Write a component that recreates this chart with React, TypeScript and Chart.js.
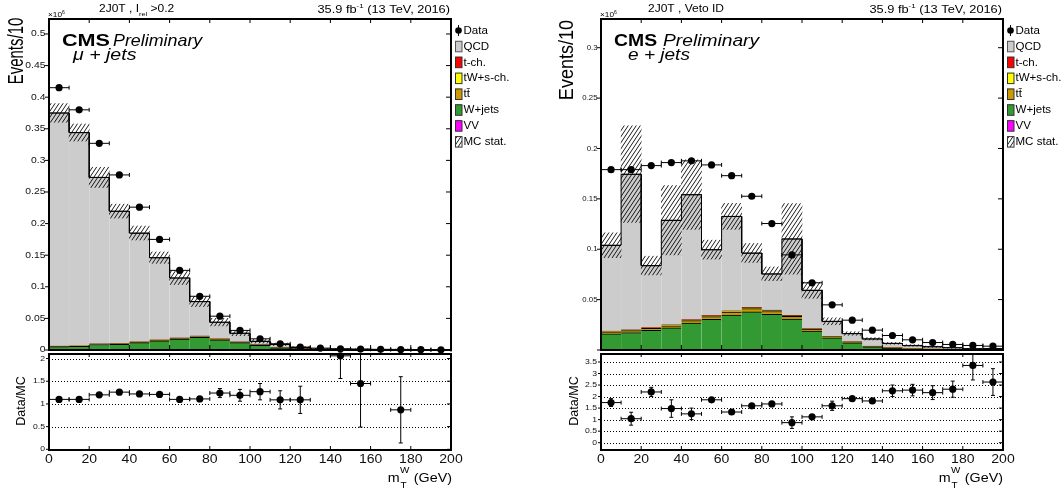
import React, { useEffect, useRef } from 'react';
import { Chart, registerables } from 'chart.js';

Chart.register(...registerables);

const W = 1064;
const H = 491;
const FONT = '"Liberation Sans", Arial, Helvetica, sans-serif';

// ---------------- data ----------------
const binEdges = [0, 10, 20, 30, 40, 50, 60, 70, 80, 90, 100, 110, 120, 130, 140, 150, 160, 170, 180, 190, 200];
const binCenters = [5, 15, 25, 35, 45, 55, 65, 75, 85, 95, 105, 115, 125, 135, 145, 155, 165, 175, 185, 195];
const xTickValues = [0, 20, 40, 60, 80, 100, 120, 140, 160, 180, 200];
const xTickLabels = ['0', '20', '40', '60', '80', '100', '120', '140', '160', '180', '200'];

// mu + jets (left), units of 10^6 events
const muData = [0.415, 0.380, 0.327, 0.277, 0.226, 0.175, 0.126, 0.085, 0.0535, 0.031, 0.0177, 0.0098, 0.0045, 0.0030, 0.0020, 0.0015, 0.0011, 0.0008, 0.0006, 0.0004];
const muQCD = [0.369, 0.3374, 0.2632, 0.2096, 0.172, 0.130, 0.095, 0.0547, 0.0265, 0.0136, 0.0055, 0.0050, 0.0019, 0.0004, 0.0005, 0.0006, 0.0003, 0.0007, 0.0002, 0.0001];
const muTch = [0.0001, 0.0002, 0.0002, 0.0002, 0.0002, 0.0002, 0.0002, 0.0002, 0.0002, 0.0002, 0.0001, 0.0001, 0, 0, 0, 0, 0, 0, 0, 0];
const muTW = [0.0002, 0.0002, 0.0003, 0.0003, 0.0004, 0.0005, 0.0005, 0.0006, 0.0005, 0.0004, 0.0003, 0.0001, 0.0001, 0, 0, 0, 0, 0, 0, 0];
const muTTbar = [0.0005, 0.0005, 0.0007, 0.0007, 0.0009, 0.0010, 0.0011, 0.0012, 0.0010, 0.0008, 0.0006, 0.0003, 0.0002, 0.0001, 0.0001, 0.0001, 0, 0, 0, 0];
const muWjets = [0.0052, 0.0057, 0.0086, 0.0088, 0.0115, 0.0143, 0.0172, 0.0200, 0.0158, 0.0116, 0.0073, 0.0035, 0.0019, 0.0010, 0.0006, 0.0003, 0.0002, 0.0002, 0.0001, 0.0001];
const muVV = [0.0001, 0.0001, 0.0001, 0.0001, 0.0001, 0.0001, 0.0001, 0.0001, 0.0001, 0.0001, 0.0001, 0, 0, 0, 0, 0, 0, 0, 0, 0];
const muMCstat = [0.0148, 0.0135, 0.016, 0.011, 0.011, 0.009, 0.0105, 0.008, 0.006, 0.004, 0.003, 0.002, 0.0015, 0.001, 0.0008, 0.0008, 0.0005, 0.0006, 0.0003, 0.0002];
const muRatio = [1.10, 1.10, 1.20, 1.26, 1.22, 1.21, 1.10, 1.11, 1.24, 1.19, 1.27, 1.09, 1.09, null, 2.06, 1.45, null, 0.87, null, null];
const muRatioErr = [0.02, 0.02, 0.02, 0.02, 0.03, 0.03, 0.04, 0.05, 0.1, 0.13, 0.18, 0.2, 0.3, null, 0.5, 0.96, null, 0.73, null, null];
const muYTicks = [0, 0.05, 0.1, 0.15, 0.2, 0.25, 0.3, 0.35, 0.4, 0.45, 0.5];
const muYTickLabels = ['0', '0.05', '0.1', '0.15', '0.2', '0.25', '0.3', '0.35', '0.4', '0.45', '0.5'];
const muRTicks = [0, 0.5, 1, 1.5, 2];
const muRTickLabels = ['0', '0.5', '1', '1.5', '2'];

// e + jets (right)
const eData = [0.179, 0.179, 0.183, 0.186, 0.1877, 0.1837, 0.173, 0.1526, 0.1255, 0.0944, 0.0667, 0.0448, 0.0296, 0.0197, 0.0144, 0.0101, 0.0074, 0.0055, 0.0045, 0.0038];
const eQCD = [0.0853, 0.1545, 0.0615, 0.1038, 0.124, 0.0652, 0.0937, 0.0539, 0.0361, 0.0758, 0.038, 0.0149, 0.0083, 0.0073, 0.0044, 0.0031, 0.0024, 0.0017, 0.0008, 0.0010];
const eTch = [0.0003, 0.0003, 0.0003, 0.0003, 0.0004, 0.0004, 0.0004, 0.0004, 0.0004, 0.0004, 0.0002, 0.0001, 0.0001, 0.0001, 0, 0, 0, 0, 0, 0];
const eTW = [0.0005, 0.0005, 0.0006, 0.0006, 0.0007, 0.0008, 0.0009, 0.0010, 0.0009, 0.0008, 0.0005, 0.0003, 0.0002, 0.0001, 0.0001, 0, 0, 0, 0, 0];
const eTTbar = [0.0018, 0.0019, 0.0020, 0.0022, 0.0025, 0.0028, 0.0030, 0.0032, 0.0029, 0.0025, 0.0017, 0.0011, 0.0007, 0.0004, 0.0003, 0.0002, 0.0001, 0.0001, 0.0001, 0.0001];
const eWjets = [0.0160, 0.0172, 0.0193, 0.0218, 0.0265, 0.0303, 0.0345, 0.0377, 0.0352, 0.0307, 0.0188, 0.0121, 0.0071, 0.0032, 0.0018, 0.0012, 0.0008, 0.0005, 0.0004, 0.0003];
const eVV = [0.0001, 0.0001, 0.0001, 0.0001, 0.0001, 0.0001, 0.0001, 0.0001, 0.0001, 0.0001, 0.0001, 0, 0, 0, 0, 0, 0, 0, 0, 0];
const eMCstat = [0.0123, 0.048, 0.0093, 0.0344, 0.0345, 0.0094, 0.0129, 0.0094, 0.0068, 0.035, 0.008, 0.0034, 0.0018, 0.0012, 0.0009, 0.0008, 0.0006, 0.0005, 0.0004, 0.0004];
const eRatio = [1.74, 1.04, 2.20, 1.48, 1.25, 1.86, 1.33, 1.60, 1.68, 0.87, 1.12, 1.60, 1.91, 1.81, 2.25, 2.28, 2.17, 2.32, 3.35, 2.63];
const eRatioErr = [0.17, 0.28, 0.2, 0.38, 0.25, 0.1, 0.05, 0.07, 0.07, 0.25, 0.06, 0.2, 0.05, 0.05, 0.25, 0.25, 0.3, 0.35, 0.63, 0.58];
const eYTicks = [0, 0.05, 0.1, 0.15, 0.2, 0.25, 0.3];
const eYTickLabels = ['', '0.05', '0.1', '0.15', '0.2', '0.25', '0.3'];
const eRTicks = [0, 0.5, 1, 1.5, 2, 2.5, 3, 3.5];
const eRTickLabels = ['0', '0.5', '1', '1.5', '2', '2.5', '3', '3.5'];

const legendLabels = ['Data', 'QCD', 't-ch.', 'tW+s-ch.', 'tt\u0304', 'W+jets', 'VV', 'MC stat.'];

// ---------------- styles / layout ----------------
const COLORS = { qcd: '#cccccc', tch: '#ff0000', tw: '#ffff00', ttbar: '#cc9900', wjets: '#339933', vv: '#ff00ff' };
const legendRowY = [30.5, 46.3, 62.2, 78.1, 94, 109.8, 125.7, 141.6];

const LEFT = {
  main: { left: 49, right: 451, top: 19, bottom: 350 },
  ratio: { left: 49, right: 451, top: 354, bottom: 450 },
  yMax: 0.5237, rMin: -0.015, rMax: 2.1,
  data: muData, qcd: muQCD, tch: muTch, tw: muTW, ttbar: muTTbar, wjets: muWjets, vv: muVV, mcStat: muMCstat,
  ratioVals: muRatio, ratioErr: muRatioErr,
  yTicks: muYTicks, yTickLabels: muYTickLabels, rTicks: muRTicks, rTickLabels: muRTickLabels,
  t: {
    title: [{ t: '2J0T , I' }, { t: 'rel', sub: true }, { t: ' >0.2' }], titleX: 99, titleCenter: null,
    lumiRight: 450, x10X: 48,
    cmsX: 62, cmsSx: 1.27, prelimX: 113, prelimSx: 1.05, chan: '\u03bc + jets', chanX: 73, chanSx: 1.15,
    evX: 16.5, evY: 51, evSize: 22, evSx: 0.68,
    yLabRight: 45.5, yLabSize: 9, yLabSx: 1.15,
    legendX: 455,
    dmX: 22, rLabRight: 45, mtRight: 452,
  },
};

const RIGHT = {
  main: { left: 601, right: 1003, top: 19, bottom: 350 },
  ratio: { left: 601, right: 1003, top: 354, bottom: 450 },
  yMax: 0.3285, rMin: -0.317, rMax: 3.846,
  data: eData, qcd: eQCD, tch: eTch, tw: eTW, ttbar: eTTbar, wjets: eWjets, vv: eVV, mcStat: eMCstat,
  ratioVals: eRatio, ratioErr: eRatioErr,
  yTicks: eYTicks, yTickLabels: eYTickLabels, rTicks: eRTicks, rTickLabels: eRTickLabels,
  t: {
    title: [{ t: '2J0T , Veto ID' }], titleX: null, titleCenter: 686,
    lumiRight: 1002, x10X: 600,
    cmsX: 614, cmsSx: 1.14, prelimX: 663, prelimSx: 1.13, chan: 'e + jets', chanX: 628, chanSx: 1.12,
    evX: 567.5, evY: 60, evSize: 21, evSx: 0.86,
    yLabRight: 597.5, yLabSize: 7.8, yLabSx: 1.0,
    legendX: 1007,
    dmX: 574.5, rLabRight: 597, mtRight: 1003,
  },
};

// ---------------- helpers ----------------
function fontOf(o: any) {
  return `${o.italic ? 'italic ' : ''}${o.bold ? 'bold ' : ''}${o.size}px ${FONT}`;
}
function measure(ctx: CanvasRenderingContext2D, s: string, o: any) {
  ctx.save();
  ctx.font = fontOf(o);
  const w = ctx.measureText(s).width * (o.sx ?? 1);
  ctx.restore();
  return w;
}
function text(ctx: CanvasRenderingContext2D, s: string, x: number, y: number, o: any) {
  ctx.save();
  ctx.translate(x, y);
  if (o.rot) ctx.rotate(o.rot);
  ctx.scale(o.sx ?? 1, 1);
  ctx.font = fontOf(o);
  ctx.textAlign = o.align ?? 'left';
  ctx.textBaseline = o.baseline ?? 'alphabetic';
  ctx.fillStyle = o.color ?? '#000';
  ctx.fillText(s, 0, 0);
  ctx.restore();
}
function segOpt(s: any, o: any) {
  return s.sub || s.sup ? { ...o, size: o.size * 0.62 } : o;
}
function segsWidth(ctx: CanvasRenderingContext2D, segs: any[], o: any) {
  return segs.reduce((w, s) => w + measure(ctx, s.t, segOpt(s, o)), 0);
}
function drawSegs(ctx: CanvasRenderingContext2D, segs: any[], x: number, y: number, o: any) {
  let cx = x;
  for (const s of segs) {
    const oo = segOpt(s, o);
    const dy = s.sub ? o.size * 0.4 : s.sup ? -o.size * 0.42 : 0;
    text(ctx, s.t, cx, y + dy, { ...oo, align: 'left' });
    cx += measure(ctx, s.t, oo);
  }
}
function seg(ctx: CanvasRenderingContext2D, x1: number, y1: number, x2: number, y2: number) {
  ctx.beginPath();
  ctx.moveTo(x1, y1);
  ctx.lineTo(x2, y2);
  ctx.stroke();
}
function makeHatch() {
  const c = document.createElement('canvas');
  c.width = 4;
  c.height = 6;
  const g = c.getContext('2d')!;
  g.strokeStyle = '#000';
  g.lineWidth = 0.9;
  g.beginPath();
  g.moveTo(0, 6); g.lineTo(4, 0);
  g.moveTo(-4, 6); g.lineTo(0, 0);
  g.moveTo(4, 6); g.lineTo(8, 0);
  g.stroke();
  return g.createPattern(c, 'repeat');
}
function padding(a: any) {
  return { left: a.left, top: a.top, right: W - a.right, bottom: H - a.bottom };
}

// ---------------- main (stack) chart ----------------
function buildMain(p: any, pat: any) {
  const total = p.qcd.map((q: number, i: number) => q + p.tch[i] + p.tw[i] + p.ttbar[i] + p.wjets[i] + p.vv[i]);
  const stepPts: any[] = [];
  total.forEach((v: number, i: number) => {
    stepPts.push({ x: binEdges[i], y: v });
    stepPts.push({ x: binEdges[i + 1], y: v });
  });
  const layer = (label: string, arr: number[], color: string) => ({
    type: 'bar', label,
    data: binCenters.map((x, i) => ({ x, y: arr[i] })),
    backgroundColor: color, borderColor: '#000',
    borderWidth: { top: 1, right: 0, bottom: 0, left: 0 }, borderSkipped: false,
    stack: 'mc', order: 3, yAxisID: 'y',
  });

  const plugin = {
    id: 'mainDeco',
    afterDatasetsDraw(chart: any) {
      const ctx: CanvasRenderingContext2D = chart.ctx;
      const xs = chart.scales.x, ys = chart.scales.y2, ca = chart.chartArea;
      const t = p.t;
      ctx.save();
      ctx.strokeStyle = '#000';
      ctx.lineWidth = 1;
      // horizontal error bars of data
      p.data.forEach((v: number, i: number) => {
        const xa = xs.getPixelForValue(binEdges[i]), xb = xs.getPixelForValue(binEdges[i + 1]);
        const y = ys.getPixelForValue(v);
        seg(ctx, xa, y, xb, y);
        seg(ctx, xa, y - 2, xa, y + 2);
        seg(ctx, xb, y - 2, xb, y + 2);
      });
      // frame
      ctx.lineWidth = 2;
      ctx.strokeRect(ca.left, ca.top, ca.right - ca.left, ca.bottom - ca.top);
      ctx.lineWidth = 1;
      xTickValues.forEach((v) => {
        const x = xs.getPixelForValue(v);
        seg(ctx, x, ca.bottom, x, ca.bottom - 5);
        seg(ctx, x, ca.top, x, ca.top + 4);
      });
      p.yTicks.forEach((v: number, i: number) => {
        const y = ys.getPixelForValue(v);
        seg(ctx, ca.left - 4, y, ca.left, y);
        seg(ctx, ca.right, y, ca.right - 5, y);
        const lab = p.yTickLabels[i];
        if (lab) text(ctx, lab, t.yLabRight, y, { size: t.yLabSize, sx: t.yLabSx, align: 'right', baseline: 'middle', color: '#111' });
      });
      ctx.restore();

      // titles
      const tOpt = { size: 10, sx: 1.2 };
      const tw = segsWidth(ctx, t.title, tOpt);
      const tx = t.titleCenter != null ? t.titleCenter - tw / 2 : t.titleX;
      drawSegs(ctx, t.title, tx, 12.3, tOpt);
      const lumi = [{ t: '35.9 fb' }, { t: '-1', sup: true }, { t: ' (13 TeV, 2016)' }];
      const lOpt = { size: 10, sx: 1.28 };
      drawSegs(ctx, lumi, t.lumiRight - segsWidth(ctx, lumi, lOpt), 12.5, lOpt);
      drawSegs(ctx, [{ t: '\u00d710' }, { t: '6', sup: true }], t.x10X, 17, { size: 7.5, sx: 1.1 });

      text(ctx, 'CMS', t.cmsX, 45.5, { size: 17, bold: true, sx: t.cmsSx });
      text(ctx, 'Preliminary', t.prelimX, 45.5, { size: 17, italic: true, sx: t.prelimSx });
      text(ctx, t.chan, t.chanX, 59.5, { size: 17, italic: true, sx: t.chanSx });
      text(ctx, 'Events/10', t.evX, t.evY, { size: t.evSize, sx: t.evSx, rot: -Math.PI / 2, align: 'center', baseline: 'middle' });

      // legend
      const fills = [null, COLORS.qcd, COLORS.tch, COLORS.tw, COLORS.ttbar, COLORS.wjets, COLORS.vv, pat];
      ctx.save();
      legendLabels.forEach((lab, i) => {
        const y = legendRowY[i];
        const bx = t.legendX;
        if (i === 0) {
          ctx.fillStyle = '#000';
          ctx.beginPath();
          ctx.arc(bx + 3.5, y, 3.3, 0, Math.PI * 2);
          ctx.fill();
          ctx.strokeStyle = '#000';
          ctx.lineWidth = 1;
          seg(ctx, bx + 3.5, y - 5.5, bx + 3.5, y + 5.5);
        } else {
          if (i === 7) {
            ctx.fillStyle = '#fff';
            ctx.fillRect(bx, y - 5.5, 7, 11);
          }
          ctx.fillStyle = fills[i] as any;
          ctx.fillRect(bx, y - 5.5, 7, 11);
          ctx.strokeStyle = i === 1 ? '#555' : '#333';
          ctx.lineWidth = 1;
          ctx.strokeRect(bx + 0.5, y - 5, 6.5, 10.5);
        }
        text(ctx, lab, bx + 8.5, y + 0.5, { size: 10.5, sx: 1.1, baseline: 'middle' });
      });
      ctx.restore();
    },
  };

  return {
    type: 'bar',
    data: {
      datasets: [
        {
          type: 'line', label: 'Data', data: binCenters.map((x, i) => ({ x, y: p.data[i] })),
          showLine: false, pointRadius: 3.6, pointBackgroundColor: '#000', pointBorderColor: '#000', pointBorderWidth: 0,
          order: 0, clip: false, yAxisID: 'y2',
        },
        {
          type: 'bar', label: 'MC stat.',
          data: binCenters.map((x, i) => ({ x, y: [total[i] - p.mcStat[i], total[i] + p.mcStat[i]] })),
          backgroundColor: pat, borderWidth: 0, order: 1, yAxisID: 'y2',
        },
        {
          type: 'line', label: 'MC total', data: stepPts, borderColor: '#000', borderWidth: 1,
          pointRadius: 0, fill: false, order: 2, yAxisID: 'y2',
        },
        layer('VV', p.vv, COLORS.vv),
        layer('W+jets', p.wjets, COLORS.wjets),
        layer('tt\u0304', p.ttbar, COLORS.ttbar),
        layer('tW+s-ch.', p.tw, COLORS.tw),
        layer('t-ch.', p.tch, COLORS.tch),
        layer('QCD', p.qcd, COLORS.qcd),
      ],
    },
    options: {
      responsive: false,
      animation: false,
      devicePixelRatio: 1,
      events: [],
      layout: { padding: padding(p.main) },
      datasets: { bar: { grouped: false, barPercentage: 1, categoryPercentage: 1 } },
      plugins: { legend: { display: false }, tooltip: { enabled: false }, title: { display: false } },
      scales: {
        x: { type: 'linear', min: 0, max: 200, offset: false, display: false, ticks: { stepSize: 10 } },
        y: { type: 'linear', min: 0, max: p.yMax, stacked: true, display: false },
        y2: { type: 'linear', min: 0, max: p.yMax, display: false },
      },
    },
    plugins: [plugin],
  };
}

// ---------------- ratio chart ----------------
function buildRatio(p: any) {
  const t = p.t;
  const plugin = {
    id: 'ratioDeco',
    beforeDatasetsDraw(chart: any) {
      const ctx: CanvasRenderingContext2D = chart.ctx;
      const ys = chart.scales.y, ca = chart.chartArea;
      ctx.save();
      ctx.strokeStyle = '#000';
      ctx.lineWidth = 1;
      ctx.setLineDash([1, 2]);
      p.rTicks.forEach((v: number) => {
        const y = Math.round(ys.getPixelForValue(v)) + 0.5;
        seg(ctx, ca.left, y, ca.right, y);
      });
      ctx.restore();
    },
    afterDatasetsDraw(chart: any) {
      const ctx: CanvasRenderingContext2D = chart.ctx;
      const xs = chart.scales.x, ys = chart.scales.y, ca = chart.chartArea;
      ctx.save();
      ctx.beginPath();
      ctx.rect(ca.left, ca.top, ca.right - ca.left, ca.bottom - ca.top);
      ctx.clip();
      ctx.strokeStyle = '#000';
      ctx.lineWidth = 1;
      p.ratioVals.forEach((v: number | null, i: number) => {
        if (v == null) return;
        const xa = xs.getPixelForValue(binEdges[i]), xb = xs.getPixelForValue(binEdges[i + 1]);
        const xc = xs.getPixelForValue(binCenters[i]);
        const y = ys.getPixelForValue(v);
        seg(ctx, xa, y, xb, y);
        seg(ctx, xa, y - 2, xa, y + 2);
        seg(ctx, xb, y - 2, xb, y + 2);
        const e = p.ratioErr[i];
        if (e) {
          const y1 = ys.getPixelForValue(v - e), y2 = ys.getPixelForValue(v + e);
          seg(ctx, xc, y1, xc, y2);
          seg(ctx, xc - 2, y1, xc + 2, y1);
          seg(ctx, xc - 2, y2, xc + 2, y2);
        }
      });
      ctx.restore();

      ctx.save();
      ctx.strokeStyle = '#000';
      ctx.lineWidth = 2;
      ctx.strokeRect(ca.left, ca.top, ca.right - ca.left, ca.bottom - ca.top);
      ctx.lineWidth = 1;
      xTickValues.forEach((v, i) => {
        const x = xs.getPixelForValue(v);
        seg(ctx, x, ca.bottom, x, ca.bottom - 4);
        seg(ctx, x, ca.top, x, ca.top + 3);
        text(ctx, xTickLabels[i], x, 459, { size: 13, sx: 1.08, align: 'center', baseline: 'middle', color: '#111' });
      });
      p.rTicks.forEach((v: number, i: number) => {
        const y = ys.getPixelForValue(v);
        seg(ctx, ca.left - 3, y, ca.left, y);
        seg(ctx, ca.right, y, ca.right - 4, y);
        text(ctx, p.rTickLabels[i], t.rLabRight, y, { size: 7.5, sx: 1.15, align: 'right', baseline: 'middle', color: '#111' });
      });
      ctx.restore();

      text(ctx, 'Data/MC', t.dmX, 401, { size: 12.5, sx: 1, rot: -Math.PI / 2, align: 'center', baseline: 'middle' });

      // m_T^W (GeV)
      const mOpt = { size: 13, sx: 1.1 };
      const sOpt = { size: 9, sx: 1.1 };
      const wM = measure(ctx, 'm', mOpt);
      const wS = Math.max(measure(ctx, 'W', sOpt), measure(ctx, 'T', sOpt));
      const wG = measure(ctx, ' (GeV)', mOpt);
      const x0 = t.mtRight - (wM + wS + wG + 1);
      text(ctx, 'm', x0, 482, mOpt);
      text(ctx, 'W', x0 + wM + 0.5, 473, sOpt);
      text(ctx, 'T', x0 + wM + 1, 487.5, sOpt);
      text(ctx, ' (GeV)', x0 + wM + wS + 1, 482, mOpt);
    },
  };
  return {
    type: 'line',
    data: {
      datasets: [
        {
          label: 'Data/MC', data: binCenters.map((x, i) => ({ x, y: p.ratioVals[i] })),
          showLine: false, pointRadius: 3.6, pointBackgroundColor: '#000', pointBorderColor: '#000', pointBorderWidth: 0,
          clip: false,
        },
      ],
    },
    options: {
      responsive: false,
      animation: false,
      devicePixelRatio: 1,
      events: [],
      layout: { padding: padding(p.ratio) },
      plugins: { legend: { display: false }, tooltip: { enabled: false }, title: { display: false } },
      scales: {
        x: { type: 'linear', min: 0, max: 200, offset: false, display: false, ticks: { stepSize: 10 } },
        y: { type: 'linear', min: p.rMin, max: p.rMax, display: false },
      },
    },
    plugins: [plugin],
  };
}

export default function App() {
  const r0 = useRef<HTMLCanvasElement>(null);
  const r1 = useRef<HTMLCanvasElement>(null);
  const r2 = useRef<HTMLCanvasElement>(null);
  const r3 = useRef<HTMLCanvasElement>(null);

  useEffect(() => {
    const pat = makeHatch();
    const charts = [
      new Chart(r0.current as any, buildMain(LEFT, pat) as any),
      new Chart(r1.current as any, buildRatio(LEFT) as any),
      new Chart(r2.current as any, buildMain(RIGHT, pat) as any),
      new Chart(r3.current as any, buildRatio(RIGHT) as any),
    ];
    return () => charts.forEach((c) => c.destroy());
  }, []);

  const cs: React.CSSProperties = { position: 'absolute', left: 0, top: 0, width: W, height: H };
  return (
    <div style={{ position: 'fixed', left: 0, top: 0, width: W, height: H, background: '#fff', overflow: 'hidden' }}>
      <canvas ref={r0} width={W} height={H} style={cs} />
      <canvas ref={r1} width={W} height={H} style={cs} />
      <canvas ref={r2} width={W} height={H} style={cs} />
      <canvas ref={r3} width={W} height={H} style={cs} />
    </div>
  );
}
